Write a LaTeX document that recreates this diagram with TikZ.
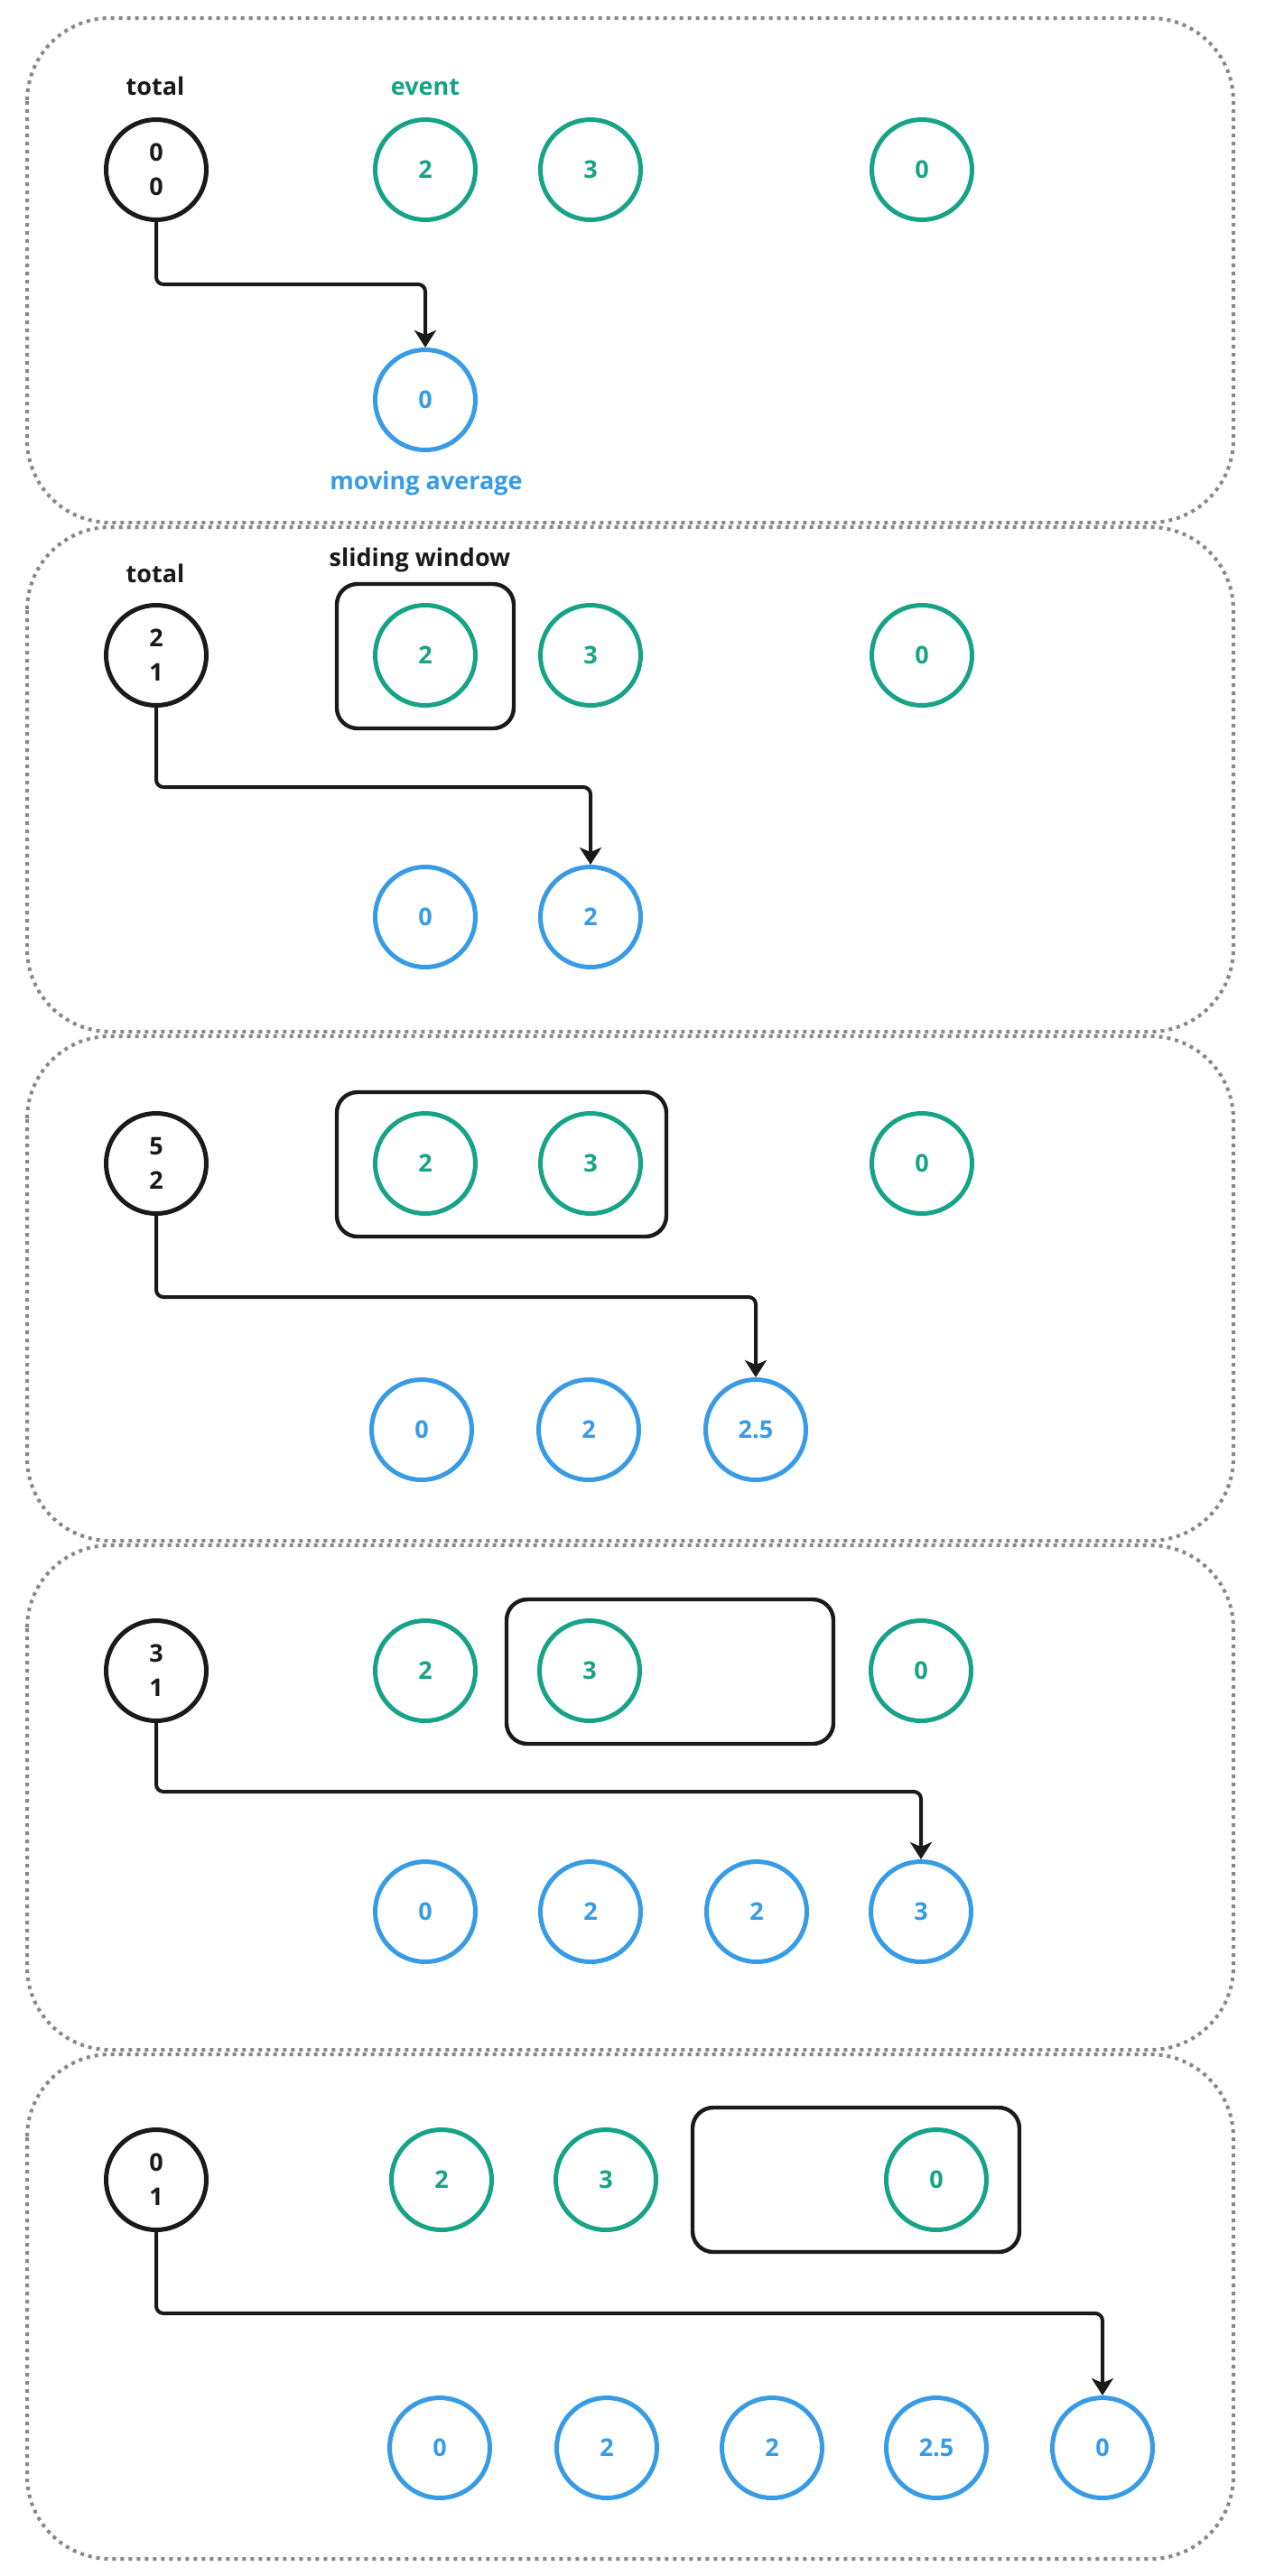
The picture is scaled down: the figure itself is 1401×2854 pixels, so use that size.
\documentclass[tikz,border=0pt]{standalone}
\usepackage{fontspec}
\setmainfont{Open Sans}
\usetikzlibrary{arrows.meta}
\definecolor{evgreen}{RGB}{22,163,134}
\definecolor{mablue}{RGB}{55,155,230}
\definecolor{ink}{RGB}{26,26,26}
\definecolor{dotgray}{RGB}{136,136,136}
\tikzset{
 panel/.style={draw=dotgray, line width=2pt, dash pattern=on 2pt off 2.5pt, rounded corners=46pt},
 circ/.style={circle, line width=2.5pt, minimum size=55.5pt, inner sep=0pt, font=\bfseries\fontsize{13.5pt}{19pt}\selectfont, align=center},
 tot/.style={circ, draw=ink, text=ink},
 ev/.style={circ, draw=evgreen, text=evgreen},
 ma/.style={circ, draw=mablue, text=mablue},
 win/.style={draw=ink, line width=2.2pt, rounded corners=11.5pt},
 lbl/.style={font=\bfseries\fontsize{13.5pt}{16pt}\selectfont, anchor=base, inner sep=0pt},
 arr/.style={draw=ink, line width=2pt, rounded corners=4pt, -{Stealth[length=9.5pt,width=12pt,inset=2.5pt]}},
}
\begin{document}
\begin{tikzpicture}[x=0.5pt,y=-0.5pt]
\useasboundingbox (0,0) rectangle (1401,2854);
\fill[white] (0,0) rectangle (1401,2854);
\foreach \i in {0,...,4}{
  \draw[panel] (30,{20+564*\i}) rectangle (1366,{579+564*\i});
}
% ---------- panel 1 ----------
\node[lbl, text=ink] (p1tl) at (172,105) {total};
\node[lbl, text=evgreen] (p1el) at (471,105) {event};
\node[tot] (p1t) at (173,188) {0\\0};
\node[ev] (p1e1) at (471,188) {2};
\node[ev] (p1e2) at (654,188) {3};
\node[ev] (p1e3) at (1021,188) {0};
\node[ma] (p1m1) at (471,443) {0};
\node[lbl, text=mablue] (p1ml) at (472,542) {moving average};
\coordinate (p1k) at (0,315);
\draw[arr] (p1t.south) |- (p1m1.north |- p1k) -- (p1m1.north);
% ---------- panel 2 ----------
\node[lbl, text=ink] (p2tl) at (172,645) {total};
\node[lbl, text=ink] (p2wl) at (465,627) {sliding window};
\draw[win] (373,647) rectangle (569,807);
\node[tot] (p2t) at (173,726) {2\\1};
\node[ev] (p2e1) at (471,726) {2};
\node[ev] (p2e2) at (654,726) {3};
\node[ev] (p2e3) at (1021,726) {0};
\node[ma] (p2m1) at (471,1016) {0};
\node[ma] (p2m2) at (654,1016) {2};
\coordinate (p2k) at (0,872);
\draw[arr] (p2t.south) |- (p2m2.north |- p2k) -- (p2m2.north);
% ---------- panel 3 ----------
\draw[win] (373,1210) rectangle (738,1370);
\node[tot] (p3t) at (173,1289) {5\\2};
\node[ev] (p3e1) at (471,1289) {2};
\node[ev] (p3e2) at (654,1289) {3};
\node[ev] (p3e3) at (1021,1289) {0};
\node[ma] (p3m1) at (467,1584) {0};
\node[ma] (p3m2) at (652,1584) {2};
\node[ma] (p3m3) at (837,1584) {2.5};
\coordinate (p3k) at (0,1437);
\draw[arr] (p3t.south) |- (p3m3.north |- p3k) -- (p3m3.north);
% ---------- panel 4 ----------
\draw[win] (561,1772) rectangle (923,1932);
\node[tot] (p4t) at (173,1851) {3\\1};
\node[ev] (p4e1) at (471,1851) {2};
\node[ev] (p4e2) at (653,1851) {3};
\node[ev] (p4e3) at (1020,1851) {0};
\node[ma] (p4m1) at (471,2118) {0};
\node[ma] (p4m2) at (654,2118) {2};
\node[ma] (p4m3) at (838,2118) {2};
\node[ma] (p4m4) at (1020,2118) {3};
\coordinate (p4k) at (0,1985);
\draw[arr] (p4t.south) |- (p4m4.north |- p4k) -- (p4m4.north);
% ---------- panel 5 ----------
\draw[win] (767,2335) rectangle (1129,2495);
\node[tot] (p5t) at (173,2415) {0\\1};
\node[ev] (p5e1) at (489,2415) {2};
\node[ev] (p5e2) at (671,2415) {3};
\node[ev] (p5e3) at (1037,2415) {0};
\node[ma] (p5m1) at (487,2712) {0};
\node[ma] (p5m2) at (672,2712) {2};
\node[ma] (p5m3) at (855,2712) {2};
\node[ma] (p5m4) at (1037,2712) {2.5};
\node[ma] (p5m5) at (1221,2712) {0};
\coordinate (p5k) at (0,2563);
\draw[arr] (p5t.south) |- (p5m5.north |- p5k) -- (p5m5.north);
\end{tikzpicture}
\end{document}
